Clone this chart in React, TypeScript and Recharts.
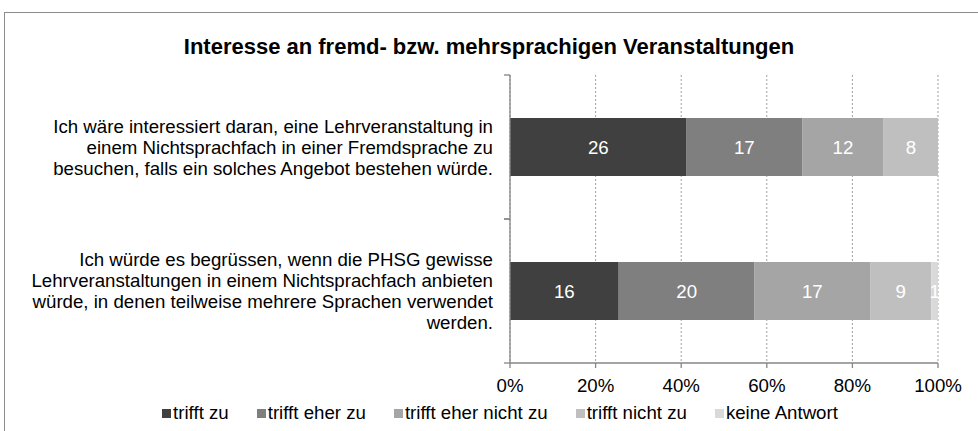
import React from 'react';
import { BarChart, Bar, XAxis, YAxis, CartesianGrid, Legend, LabelList } from 'recharts';

const categories = [
  'Ich wäre interessiert daran, eine Lehrveranstaltung in\neinem Nichtsprachfach in einer Fremdsprache zu\nbesuchen, falls ein solches Angebot bestehen würde.',
  'Ich würde es begrüssen, wenn die PHSG gewisse\nLehrveranstaltungen in einem Nichtsprachfach anbieten\nwürde, in denen teilweise mehrere Sprachen verwendet\nwerden.',
];
const seriesNames = ['trifft zu', 'trifft eher zu', 'trifft eher nicht zu', 'trifft nicht zu', 'keine Antwort'];
const trifftZu = [26, 16];
const trifftEherZu = [17, 20];
const trifftEherNichtZu = [12, 17];
const trifftNichtZu = [8, 9];
const keineAntwort = [0, 1];
const xTicks = [0, 0.2, 0.4, 0.6, 0.8, 1];

const colors = ['#404040', '#7f7f7f', '#a5a5a5', '#bfbfbf', '#d9d9d9'];
const keys = ['s0', 's1', 's2', 's3', 's4'];
const FONT = '"Liberation Sans", Arial, sans-serif';
const FS = 18.67;

const data = categories.map((cat, i) => ({
  cat,
  s0: trifftZu[i],
  s1: trifftEherZu[i],
  s2: trifftEherNichtZu[i],
  s3: trifftNichtZu[i],
  s4: keineAntwort[i],
}));

// multi-line category label, plus the small tick marks between categories
const CatTick = (props: any) => {
  const { x, y, payload } = props;
  const lines = String(payload.value).split('\n');
  const lh = 21;
  const y0 = y - ((lines.length - 1) * lh) / 2;
  return (
    <g>
      <line x1={x + 11} x2={x + 17} y1={y - 72} y2={y - 72} stroke="#868686" strokeWidth={1.3} />
      <line x1={x + 11} x2={x + 17} y1={y + 72} y2={y + 72} stroke="#868686" strokeWidth={1.3} />
      <text x={x} y={y0} textAnchor="end" fontSize={FS} fill="#000" fontFamily={FONT}>
        {lines.map((l, i) => (
          <tspan key={i} x={x} y={y0 + i * lh} dy="0.355em">
            {l}
          </tspan>
        ))}
      </text>
    </g>
  );
};

const renderLegend = () => (
  <div
    style={{
      display: 'flex',
      justifyContent: 'center',
      alignItems: 'center',
      height: 38,
      width: 978,
      paddingLeft: 22,
      paddingTop: 2,
      boxSizing: 'border-box',
      fontSize: FS,
      fontFamily: FONT,
      color: '#000',
    }}
  >
    {seriesNames.map((n, i) => (
      <span key={n} style={{ display: 'flex', alignItems: 'center', marginRight: i < seriesNames.length - 1 ? 28 : 0 }}>
        <span style={{ display: 'inline-block', width: 9, height: 9, background: colors[i], marginRight: 2 }} />
        {n}
      </span>
    ))}
  </div>
);

export default function App() {
  return (
    <div style={{ position: 'absolute', left: 0, top: 0, width: 978, height: 431, overflow: 'hidden', background: '#fff' }}>
      <div
        style={{
          position: 'absolute',
          left: 4,
          top: 12,
          width: 1000,
          height: 460,
          border: '1.5px solid #8c8c8c',
        }}
      />
      <div
        style={{
          position: 'absolute',
          left: 0,
          top: 34,
          width: 978,
          textAlign: 'center',
          fontFamily: FONT,
          fontWeight: 'bold',
          fontSize: 22,
          lineHeight: '26px',
          color: '#000',
        }}
      >
        Interesse an fremd- bzw. mehrsprachigen Veranstaltungen
      </div>
      <BarChart
        width={978}
        height={431}
        data={data}
        layout="vertical"
        stackOffset="expand"
        margin={{ top: 75, right: 40, left: 0, bottom: 0 }}
        style={{ position: 'absolute', left: 0, top: 0 }}
      >
        <CartesianGrid horizontal={false} strokeDasharray="2 2" stroke="#a0a0a0" />
        <XAxis
          type="number"
          domain={[0, 1]}
          ticks={xTicks}
          tickFormatter={(v: number) => `${Math.round(v * 100)}%`}
          axisLine={{ stroke: '#868686', strokeWidth: 1.3 }}
          tickLine={{ stroke: '#868686', strokeWidth: 1.3 }}
          tickSize={5}
          tickMargin={11}
          height={30}
          tick={{ fill: '#000', fontSize: FS, fontFamily: FONT }}
        />
        <YAxis
          type="category"
          dataKey="cat"
          width={510}
          tickSize={0}
          tickMargin={17}
          tickLine={false}
          axisLine={{ stroke: '#868686', strokeWidth: 1.3 }}
          tick={<CatTick />}
          interval={0}
        />
        <Legend verticalAlign="bottom" content={renderLegend} wrapperStyle={{ left: 0, width: 978 }} />
        {keys.map((k, i) => (
          <Bar key={k} dataKey={k} stackId="a" fill={colors[i]} barSize={58} isAnimationActive={false} name={seriesNames[i]}>
            <LabelList
              dataKey={k}
              position="center"
              fill="#fff"
              fontSize={FS}
              fontFamily={FONT}
              formatter={(v: any) => (v ? v : '')}
            />
          </Bar>
        ))}
      </BarChart>
    </div>
  );
}
